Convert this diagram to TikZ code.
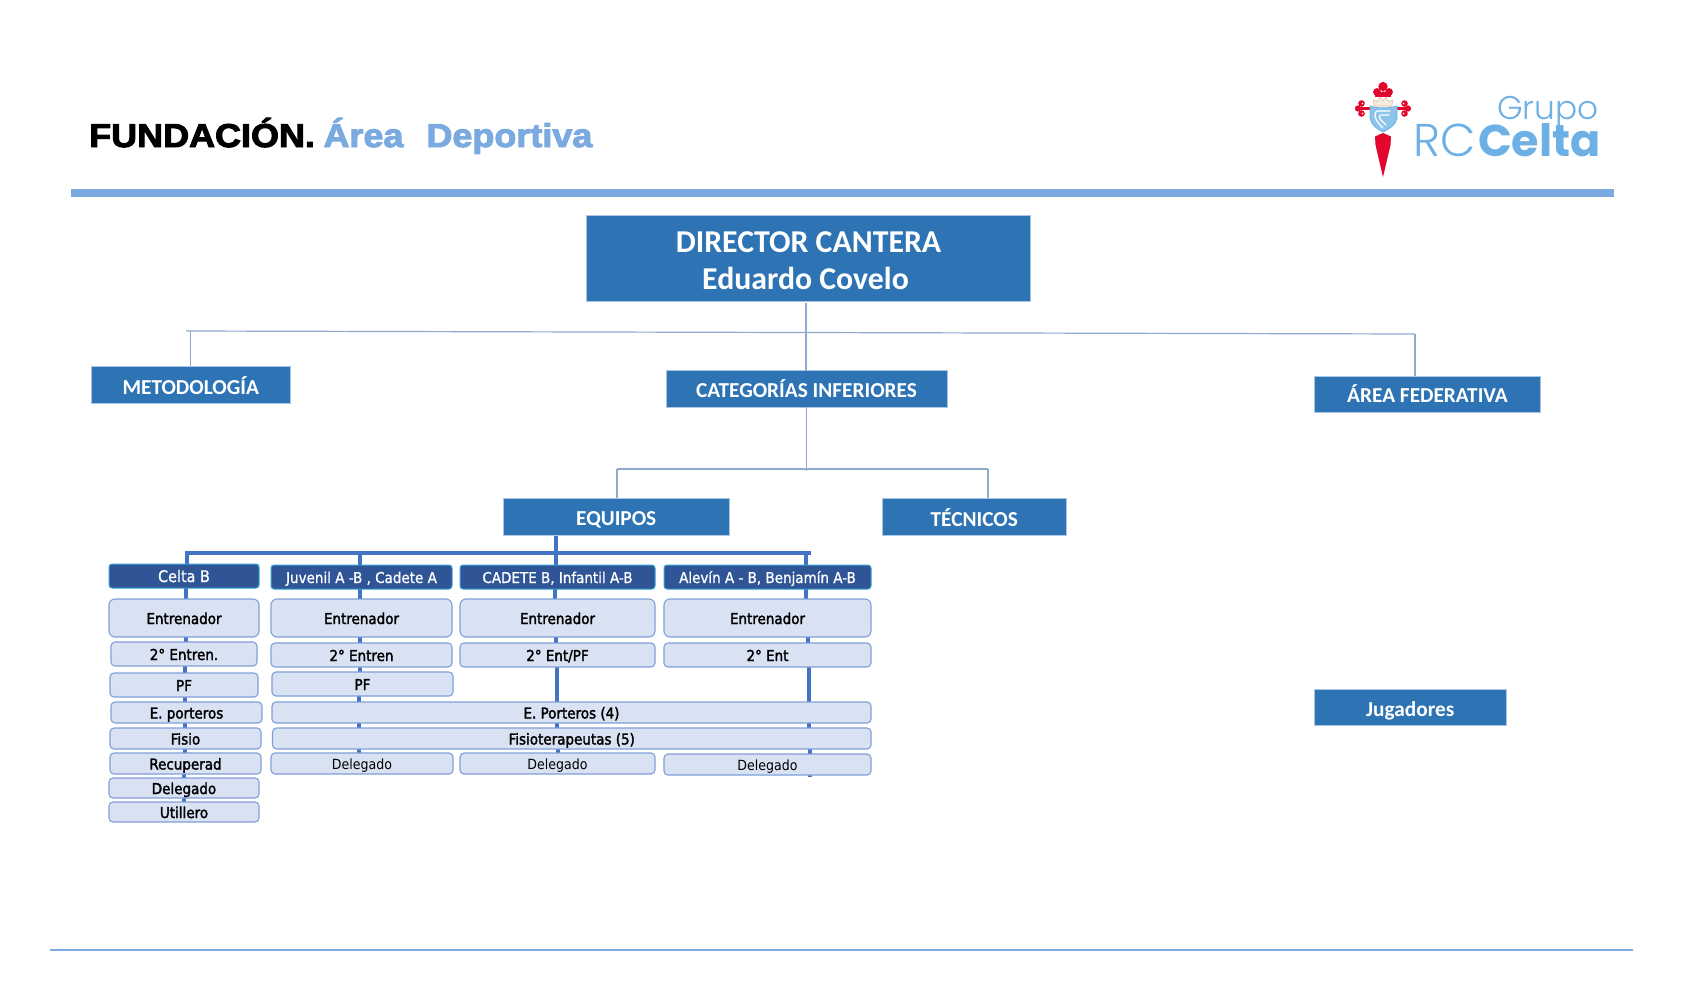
\documentclass[tikz,border=0pt]{standalone}
\usepackage{fontspec}
\usetikzlibrary{backgrounds}
\setmainfont{Carlito}
\newfontfamily\blackfont[FakeBold=3,FakeStretch=1.09]{Liberation Sans Bold}
\newfontfamily\tah{DejaVu Sans Condensed}
\newfontfamily\tahbold[FakeBold=2]{DejaVu Sans Condensed}
\newfontfamily\tahhead[FakeBold=0.9]{DejaVu Sans Condensed}
\newfontfamily\logolight[UprightFont={* Light}]{Poppins}
\newfontfamily\logobold[UprightFont={* Bold}]{Poppins}
\definecolor{mainblue}{HTML}{2E74B5}
\definecolor{mainedge}{HTML}{A9C6E6}
\definecolor{paleblue}{HTML}{D9E2F3}
\definecolor{paleedge}{HTML}{7F9FD8}
\definecolor{darkblue}{HTML}{2F5597}
\definecolor{darkedge}{HTML}{35A3D0}
\definecolor{thickline}{HTML}{4472C4}
\definecolor{thinline}{HTML}{8FA9CF}
\definecolor{barblue}{HTML}{7AAADF}
\definecolor{logoblue}{HTML}{6CB0E6}
\definecolor{crestred}{HTML}{E2062C}
\definecolor{shieldblue}{HTML}{8CC4EA}
\tikzset{
  x=1pt,y=-1pt,
  boxbase/.style={inner sep=0pt,outer sep=0pt,text depth=0pt,align=center},
  mainbox/.style={boxbase,text height=16.5pt,fill=mainblue,draw=mainedge,line width=0.7pt,text=white,font=\bfseries\fontsize{21.3}{21.3}\selectfont},
  teamhead/.style={boxbase,text height=12pt,rounded corners=3pt,fill=darkblue,draw=darkedge,line width=1pt,text=white,font=\tahhead\fontsize{15}{15}\selectfont},
  staffbox/.style={boxbase,text height=12pt,rounded corners=4pt,fill=paleblue,draw=paleedge,line width=1.1pt,text=black,font=\tahbold\fontsize{15}{15}\selectfont},
  plainstaff/.style={staffbox,font=\tah\fontsize{14}{14}\selectfont},
  bigstaff/.style={staffbox,rounded corners=6pt},
  thickconn/.style={draw=thickline,line width=3.3pt},
  thinconn/.style={draw=thinline,line width=1.2pt},
}
\newcommand\bx[7]{\node[#1,minimum width={(#5-#3)*1pt},minimum height={(#6-#4)*1pt}] (#2) at ({(#3+#5)/2},{(#4+#6)/2}) {#7};}
\newcommand\lk[3]{\draw[thickconn] (#2.south -| #1,0) -- (#3.north -| #1,0);}
\begin{document}
\begin{tikzpicture}
\useasboundingbox (0,0) rectangle (1684,1001);
\begin{scope}[on background layer]
\fill[white] (0,0) rectangle (1684,1001);
\end{scope}

% header
\node[anchor=base west,inner sep=0pt,font=\blackfont\fontsize{33}{33}\selectfont] (title) at (89,147)
  {FUNDACIÓN.\hspace{8.5pt}\textcolor{barblue}{Área\hspace{23pt}Deportiva}};
\fill[barblue] (71,189) rectangle (1614,197);
\fill[barblue] (50,949) rectangle (1633,951);

% logo text
\node[anchor=base east,inner sep=0pt,text=logoblue,font=\logolight\fontsize{32.8}{32.8}\selectfont] (grupo) at (1599,119) {Grupo};
\node[anchor=base west,inner sep=0pt,text=logoblue,font=\logolight\fontsize{46}{46}\selectfont] (rc) at (1413,156) {RC};
\node[anchor=base east,inner sep=0pt,text=logoblue,font=\logobold\fontsize{44.5}{44.5}\selectfont] (celta) at (1601,156) {Celta};

% crest
\fill[crestred] (1383,133) -- (1391,136.5) -- (1390.5,145) -- (1383,177) -- (1375.5,145) -- (1375,136.5) -- cycle;
\fill[crestred] (1383,81.5) -- (1387.5,86.5) -- (1383,92) -- (1378.5,86.5) -- cycle;
\fill[crestred] (1383,86.5) circle (4.6);
\fill[crestred] (1377,92) circle (3.9);
\fill[crestred] (1389,92) circle (3.9);
\fill[crestred] (1375,92) rectangle (1391,97);
\fill[crestred] (1357,107) rectangle (1371,110);
\fill[crestred] (1396,107) rectangle (1409,110);
\foreach \sx/\sg in {1361.5/-1,1404.5/1}{
  \fill[crestred] (\sx,103.5) circle (3.3);
  \fill[crestred] (\sx,113.5) circle (3.3);
  \fill[crestred] ({\sx+\sg*3.5},108.5) circle (3.1);
  \fill[white] ({\sx-\sg*1},103.5) circle (0.9);
  \fill[white] ({\sx-\sg*1},113.5) circle (0.9);
}
\fill[fill=white!85!brown,draw=brown!50!white,line width=0.6pt] (1374,106) -- (1373.5,100) -- (1377,102) -- (1380,97) -- (1383,101) -- (1386,97) -- (1389,102) -- (1392.5,100) -- (1392,106) -- cycle;
\fill[shieldblue,draw=logoblue,line width=0.8pt] (1370,106) .. controls (1378,108.5) and (1388,108.5) .. (1397,106) -- (1397,118) .. controls (1396,125) and (1389,129) .. (1383,132) .. controls (1377,129) and (1371,125) .. (1370,118) -- cycle;
\draw[white,line width=1.2pt,line cap=round] (1390,111) -- (1378,111) .. controls (1375,111) and (1375,113) .. (1375,116) .. controls (1376,121) and (1380,125) .. (1383,128);
\draw[white,line width=1.2pt,line cap=round] (1389,115) -- (1381,115) .. controls (1379,115) and (1379,117) .. (1380,119) .. controls (1382,121) and (1384,123) .. (1386,125);

% top hierarchy
\node[fill=mainblue,draw=mainedge,line width=0.7pt,inner sep=0pt,minimum width=444pt,minimum height=86pt,text=white,align=center,
      font=\bfseries\fontsize{31.8}{37}\selectfont] (dir) at (808.5,258) {\rule{0pt}{26pt}DIRECTOR CANTERA\\\hspace*{-6pt}Eduardo Covelo};
\bx{mainbox,text height=20pt}{met}{91.5}{366}{290}{403}{METODOLOGÍA}
\bx{mainbox}{cat}{666}{370.5}{947}{407}{CATEGORÍAS INFERIORES}
\bx{mainbox}{area}{1314.5}{376}{1540.5}{412}{ÁREA FEDERATIVA}
\bx{mainbox,text height=18pt}{equ}{503.5}{498}{729}{535}{EQUIPOS}
\bx{mainbox,text height=19.5pt}{tec}{882}{498}{1066.5}{535}{TÉCNICOS}
\bx{mainbox,text height=18pt}{jug}{1314}{689}{1506.5}{725}{Jugadores}

% column 1
\bx{teamhead,font=\tahhead\fontsize{16}{16}\selectfont}{ha}{109}{564}{259}{588}{Celta B}
\bx{bigstaff}{a1}{109}{599}{259}{637}{Entrenador}
\bx{staffbox}{a2}{111}{642}{257}{666}{2° Entren.}
\bx{staffbox}{a3}{110}{673}{258}{697}{PF}
\bx{staffbox}{a4}{111}{702}{262}{723}{E. porteros}
\bx{staffbox}{a5}{110}{728}{261}{749}{Fisio}
\bx{staffbox}{a6}{110}{753}{261}{774}{Recuperad}
\bx{staffbox}{a7}{109}{778}{259}{798}{Delegado}
\bx{staffbox}{a8}{109}{802}{259}{822}{Utillero}
% column 2
\bx{teamhead}{hb}{271}{565}{452}{589}{Juvenil A -B , Cadete A}
\bx{bigstaff}{b1}{271}{599}{452}{637}{Entrenador}
\bx{staffbox}{b2}{271}{643}{452}{667}{2° Entren}
\bx{staffbox}{b3}{272}{672}{453}{696}{PF}
\bx{plainstaff}{b6}{271}{753}{453}{774}{Delegado}
% shared
\bx{staffbox}{por}{272}{702}{871}{723}{E. Porteros (4)}
\bx{staffbox}{fis}{272.5}{728}{871}{749}{Fisioterapeutas (5)}
% column 3
\bx{teamhead}{hc}{460}{565}{655}{589}{CADETE B, Infantil A-B}
\bx{bigstaff}{c1}{460}{599}{655}{637}{Entrenador}
\bx{staffbox}{c2}{460}{643}{655}{667}{2° Ent/PF}
\bx{plainstaff}{c6}{460}{753}{655}{774}{Delegado}
% column 4
\bx{teamhead}{hd}{664}{565}{871}{589}{Alevín A - B, Benjamín A-B}
\bx{bigstaff}{d1}{664}{599}{871}{637}{Entrenador}
\bx{staffbox}{d2}{664}{643}{871}{667}{2° Ent}
\bx{plainstaff}{d6}{664}{754}{871}{775}{Delegado}

% free ends of the connectors
\coordinate (hl) at (186,331);
\coordinate (hr) at (1415,334);
\coordinate (cl) at (617,469);
\coordinate (cr) at (988,469);
\coordinate (cm) at (806.5,471);
\coordinate (tl) at (187,553);
\coordinate (tr) at (809,553);
\coordinate (te) at (556,553);
\coordinate (tj) at (360,553);
\coordinate (ta) at (806,553);
\coordinate (tailend) at (810,777);

% thin connectors
\draw[thinconn] (hl) -- (hr);
\draw[thinconn] (806,303) -- (cat.north -| 806,0);
\draw[thinconn] (hl -| met.north) -- (met.north);
\draw[thinconn] (hr) -- (hr |- area.north);
\draw[thinconn] (cat.south) -- (cm);
\draw[thinconn] (cl) -- (cr);
\draw[thinconn] (cl) -- (cl |- equ.north);
\draw[thinconn] (cr) -- (cr |- tec.north);

\begin{scope}[on background layer]
\draw[thickconn] (te |- equ.south) -- (te);
\draw[thickconn,line cap=rect] (tl) -- (tr);
\draw[thickconn] (tl) -- (tl |- ha.north);
\draw[thickconn] (tj) -- (tj |- hb.north);
\draw[thickconn] (te) -- (te |- hc.north);
\draw[thickconn] (ta) -- (ta |- hd.north);
% column 1
\lk{186}{ha}{a1}\lk{186}{a1}{a2}\lk{185}{a2}{a3}\lk{185}{a3}{a4}
\lk{185}{a4}{a5}\lk{185}{a5}{a6}\lk{184}{a6}{a7}\lk{184}{a7}{a8}
% column 2
\lk{360}{hb}{b1}\lk{360}{b1}{b2}\lk{360}{b2}{b3}\lk{359}{b3}{por}
\lk{359}{por}{fis}\lk{359}{fis}{b6}
% column 3
\lk{555}{hc}{c1}\lk{556}{c1}{c2}\lk{557}{c2}{por}\lk{557}{por}{fis}\lk{558}{fis}{c6}
% column 4
\lk{806}{hd}{d1}\lk{808}{d1}{d2}\lk{809}{d2}{por}\lk{809}{por}{fis}
\draw[thickconn] (fis.south -| tailend) -- (tailend);
\end{scope}
\end{tikzpicture}
\end{document}
